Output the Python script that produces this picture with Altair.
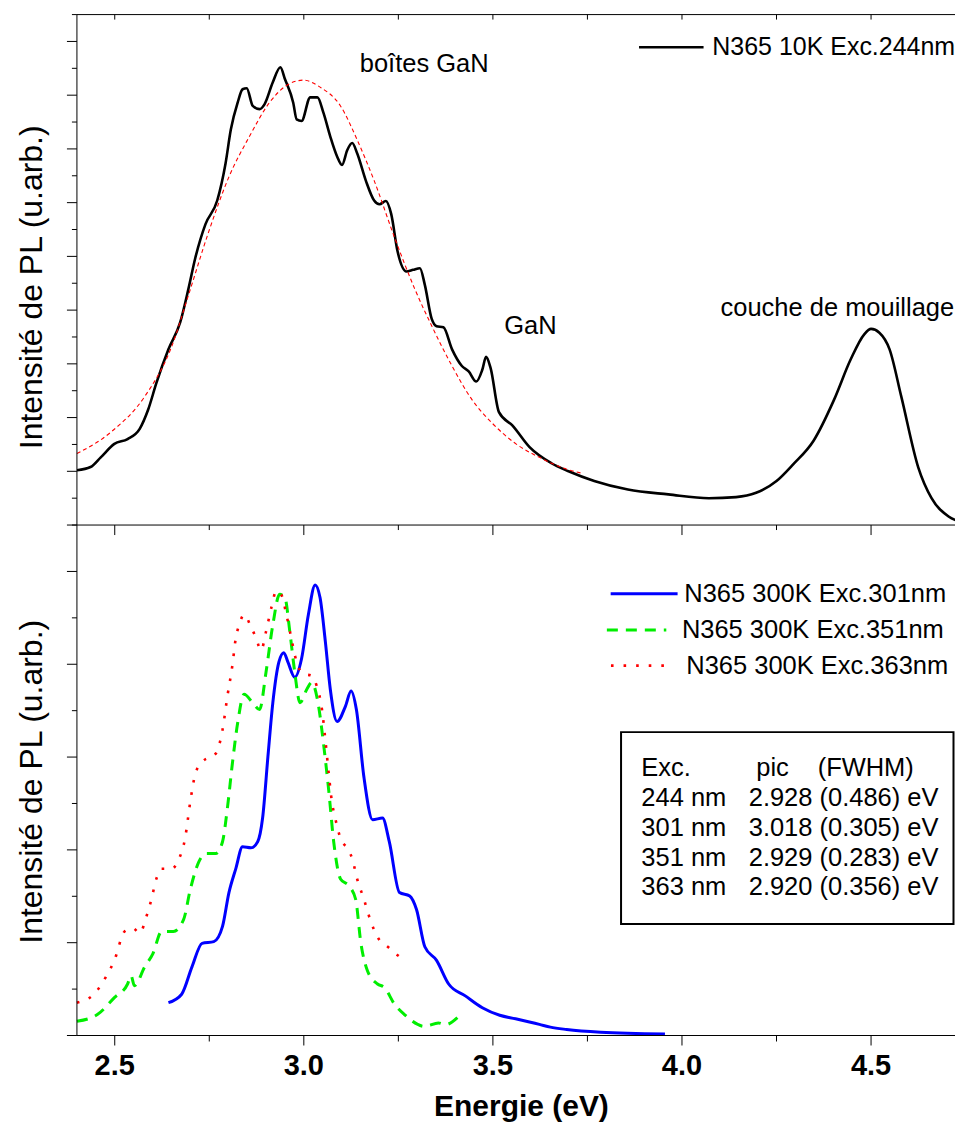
import altair as alt
import pandas as pd

# ---------------- data ----------------
# top panel : N365 10K Exc.244nm
e_10k = [2.400, 2.436, 2.463, 2.499, 2.534, 2.566, 2.588, 2.610, 2.642, 2.673, 2.695, 2.713,
         2.740, 2.771, 2.793, 2.807, 2.825, 2.838, 2.849, 2.865, 2.883, 2.896, 2.918, 2.938,
         2.950, 2.972, 2.981, 2.994, 3.017, 3.036, 3.052, 3.070, 3.088, 3.101, 3.115, 3.128,
         3.141, 3.164, 3.186, 3.200, 3.217, 3.231, 3.248, 3.271, 3.289, 3.307, 3.320, 3.338,
         3.351, 3.369, 3.392, 3.418, 3.436, 3.456, 3.472, 3.482, 3.494, 3.516, 3.552, 3.597,
         3.655, 3.700, 3.768, 3.857, 3.964, 4.071, 4.143, 4.196, 4.250, 4.294, 4.348, 4.402,
         4.446, 4.482, 4.500, 4.522, 4.549, 4.580, 4.625, 4.660, 4.705, 4.740]
i_10k = [1.02, 1.08, 1.26, 1.51, 1.60, 1.79, 2.14, 2.64, 3.27, 3.77, 4.40, 4.97,
         5.60, 6.04, 6.73, 7.36, 7.86, 8.11, 8.13, 7.80, 7.74, 7.83, 8.24, 8.52,
         8.30, 7.86, 7.55, 7.52, 7.96, 7.96, 7.67, 7.23, 6.86, 6.70, 6.98, 7.11,
         6.92, 6.41, 6.04, 5.97, 6.03, 5.79, 5.09, 4.72, 4.75, 4.78, 4.47, 3.84,
         3.70, 3.68, 3.27, 2.96, 2.86, 2.67, 2.89, 3.13, 2.92, 2.10, 1.85, 1.45,
         1.15, 1.00, 0.82, 0.66, 0.57, 0.50, 0.52, 0.60, 0.82, 1.13, 1.57, 2.33,
         3.08, 3.55, 3.65, 3.58, 3.27, 2.39, 1.07, 0.50, 0.16, 0.05]

# top panel : fitted curve (thin red dashed)
e_fit = [2.400, 2.490, 2.579, 2.651, 2.695, 2.749, 2.802, 2.856, 2.909, 2.954, 2.999, 3.043,
         3.097, 3.141, 3.186, 3.240, 3.293, 3.338, 3.392, 3.445, 3.499, 3.561, 3.623, 3.695, 3.732]
i_fit = [1.33, 1.73, 2.39, 3.33, 4.28, 5.47, 6.48, 7.23, 7.86, 8.18, 8.28, 8.15,
         7.80, 7.17, 6.41, 5.35, 4.40, 3.71, 2.96, 2.33, 1.89, 1.51, 1.26, 1.04, 0.97]

# bottom panel : N365 300K Exc.301nm
e_301 = [2.642, 2.677, 2.704, 2.731, 2.762, 2.785, 2.802, 2.820, 2.838, 2.860, 2.878, 2.891,
         2.905, 2.918, 2.934, 2.947, 2.958, 2.976, 2.994, 3.012, 3.030, 3.043, 3.057, 3.070,
         3.088, 3.110, 3.125, 3.139, 3.159, 3.182, 3.208, 3.226, 3.253, 3.280, 3.298, 3.320,
         3.351, 3.383, 3.427, 3.472, 3.518, 3.560, 3.623, 3.652, 3.695, 3.785, 3.955]
i_301 = [0.354, 0.445, 0.737, 0.993, 1.011, 1.175, 1.540, 1.796, 2.033, 2.022, 2.088, 2.343,
         3.001, 3.584, 4.023, 4.125, 4.023, 3.859, 4.059, 4.534, 4.855, 4.716, 4.242, 3.731,
         3.383, 3.547, 3.712, 3.512, 2.782, 2.325, 2.343, 2.088, 1.540, 1.503, 1.357, 0.956,
         0.810, 0.555, 0.427, 0.299, 0.218, 0.180, 0.120, 0.090, 0.065, 0.036, 0.017]

# bottom panel : N365 300K Exc.351nm
e_351 = [2.400, 2.454, 2.499, 2.534, 2.543, 2.552, 2.579, 2.601, 2.624, 2.655, 2.682, 2.700,
         2.722, 2.740, 2.767, 2.785, 2.798, 2.811, 2.825, 2.842, 2.865, 2.883, 2.900, 2.918,
         2.936, 2.950, 2.963, 2.976, 2.990, 3.008, 3.021, 3.039, 3.052, 3.066, 3.079, 3.097,
         3.119, 3.137, 3.151, 3.168, 3.195, 3.213, 3.240, 3.266, 3.320, 3.356, 3.374, 3.410]
i_351 = [0.153, 0.226, 0.408, 0.555, 0.646, 0.537, 0.737, 0.883, 1.121, 1.121, 1.248, 1.577,
         1.869, 1.960, 1.960, 2.088, 2.453, 2.928, 3.366, 3.676, 3.584, 3.512, 3.914, 4.424,
         4.753, 4.716, 4.351, 3.914, 3.584, 3.731, 3.804, 3.549, 3.147, 2.635, 2.088, 1.687,
         1.613, 1.468, 0.993, 0.701, 0.555, 0.518, 0.336, 0.226, 0.098, 0.135, 0.117, 0.207]

# bottom panel : N365 300K Exc.363nm
e_363 = [2.400, 2.445, 2.476, 2.499, 2.526, 2.548, 2.566, 2.584, 2.597, 2.610, 2.624, 2.651,
         2.668, 2.686, 2.700, 2.713, 2.731, 2.767, 2.785, 2.798, 2.811, 2.820, 2.829, 2.842,
         2.860, 2.874, 2.887, 2.900, 2.914, 2.927, 2.940, 2.954, 2.967, 2.981, 2.999, 3.021,
         3.034, 3.048, 3.057, 3.066, 3.074, 3.083, 3.097, 3.115, 3.128, 3.141, 3.159, 3.177,
         3.200, 3.222, 3.248, 3.266]
i_363 = [0.354, 0.445, 0.627, 0.810, 1.121, 1.157, 1.103, 1.285, 1.468, 1.687, 1.796, 1.796,
         1.887, 2.124, 2.526, 2.819, 2.946, 3.037, 3.293, 3.658, 3.986, 4.279, 4.424, 4.534,
         4.406, 4.279, 4.150, 4.351, 4.607, 4.789, 4.753, 4.534, 4.279, 4.023, 3.896, 3.877,
         3.767, 3.512, 3.184, 2.819, 2.526, 2.343, 2.124, 2.015, 1.905, 1.687, 1.468, 1.230,
         1.029, 0.956, 0.865, 0.810]

# axis ticks and tick labels
x_domain = [2.4, 4.722]
x_major = [2.5, 3.0, 3.5, 4.0, 4.5]
x_labels = ["2.5", "3.0", "3.5", "4.0", "4.5"]
x_minor = [2.75, 3.25, 3.75, 4.25]
x_quarter = [2.5, 2.75, 3.0, 3.25, 3.5, 3.75, 4.0, 4.25, 4.5]
top_major = [0, 1, 2, 3, 4, 5, 6, 7, 8, 9]
top_minor = [0.5, 1.5, 2.5, 3.5, 4.5, 5.5, 6.5, 7.5, 8.5, 9.5]
low_major = [0, 1, 2, 3, 4, 5]
low_minor = [0.5, 1.5, 2.5, 3.5, 4.5, 5.5]

# titles, annotations, legend and table texts
y_title = "Intensité de PL (u.arb.)"
x_title = "Energie (eV)"
top_notes = ["boîtes GaN", "GaN", "couche de mouillage"]
top_notes_x = [3.148, 3.530, 4.102]
top_notes_y = [8.58, 3.70, 4.04]
legend_top = "N365 10K Exc.244nm"
legend_low = ["N365 300K Exc.301nm", "N365 300K Exc.351nm", "N365 300K Exc.363nm"]
table_head = ["Exc.", "pic", "(FWHM)"]
table_exc = ["244 nm", "301 nm", "351 nm", "363 nm"]
table_val = ["2.928 (0.486) eV", "3.018 (0.305) eV", "2.929 (0.283) eV", "2.920 (0.356) eV"]

# ---------------- chart ----------------
FONT = "Liberation Sans"
W, H_TOP, H_LOW = 879, 511, 511
TOP_MAX, LOW_MAX = 9.5, 5.5
FS = 25.5

xs = alt.Scale(domain=x_domain, nice=False, zero=False)
ys_top = alt.Scale(domain=[0, TOP_MAX], nice=False, zero=False)
ys_low = alt.Scale(domain=[0, LOW_MAX], nice=False, zero=False)
one = alt.Data(values=[{}])


def X(field="x"):
    return alt.X(f"{field}:Q", scale=xs, axis=None)


def Y(scale, field="y"):
    return alt.Y(f"{field}:Q", scale=scale, axis=None)


def rule(df, **kw):
    return alt.Chart(df).mark_rule(color="black", strokeWidth=1, **kw)


def label(txt, xx, yy, **kw):
    opts = dict(align="left", baseline="middle", font=FONT, fontSize=FS, color="black")
    opts.update(kw)
    return alt.Chart(one).mark_text(text=txt, **opts).encode(x=alt.value(xx), y=alt.value(yy))


def frame_left(ys, ymax, majors, minors, title_y):
    """left axis: domain line, major/minor ticks and rotated title"""
    return [
        rule(pd.DataFrame({"y": [0], "y2": [ymax]})).encode(
            x=alt.value(0), y=Y(ys), y2="y2:Q"),
        rule(pd.DataFrame({"y": majors})).encode(y=Y(ys), x=alt.value(-10), x2=alt.value(0)),
        rule(pd.DataFrame({"y": minors})).encode(y=Y(ys), x=alt.value(-5), x2=alt.value(0)),
        label(y_title, -35.3, title_y, align="center", baseline="alphabetic", angle=270,
              fontSize=32),
        # keeps the left extent of the chart fixed
        alt.Chart(one).mark_rule(strokeOpacity=0, strokeWidth=1).encode(
            x=alt.value(-69), x2=alt.value(-66), y=alt.value(1)),
    ]


df_10k = pd.DataFrame({"x": e_10k, "y": i_10k})
df_fit = pd.DataFrame({"x": e_fit, "y": i_fit})
df_301 = pd.DataFrame({"x": e_301, "y": i_301})
df_351 = pd.DataFrame({"x": e_351, "y": i_351})
df_363 = pd.DataFrame({"x": e_363, "y": i_363})
df_notes = pd.DataFrame({"t": top_notes, "x": top_notes_x, "y": top_notes_y})

# ----- top panel -----
t_black = alt.Chart(df_10k).mark_line(color="black", strokeWidth=2.6, clip=True,
                                      interpolate="monotone").encode(x=X(), y=Y(ys_top))
t_fit = alt.Chart(df_fit).mark_line(color="red", strokeWidth=1.1, strokeDash=[4, 3],
                                    interpolate="monotone").encode(x=X(), y=Y(ys_top))
t_border = rule(pd.DataFrame({"x": [x_domain[0]], "x2": [x_domain[1]], "y": [TOP_MAX]})).encode(
    x=X(), x2="x2:Q", y=Y(ys_top))
t_xticks = rule(pd.DataFrame({"x": x_quarter})).encode(x=X(), y=alt.value(0), y2=alt.value(5))
t_notes = alt.Chart(df_notes).mark_text(align="left", baseline="middle", font=FONT,
                                         fontSize=FS, color="black").encode(
    x=X(), y=Y(ys_top), text="t:N")
t_leg_line = alt.Chart(one).mark_rule(color="black", strokeWidth=2.5).encode(
    x=alt.value(562.7), x2=alt.value(627.3), y=alt.value(32.6))
t_leg_text = label(legend_top, 636, 32.6, fontSize=25)

top = alt.layer(t_black, t_fit, t_border, t_xticks, t_notes, t_leg_line, t_leg_text,
                *frame_left(ys_top, TOP_MAX, top_major, top_minor, 273)
                ).properties(width=W, height=H_TOP)

# ----- bottom panel -----
b_blue = alt.Chart(df_301).mark_line(color="#0000ff", strokeWidth=3,
                                     interpolate="monotone").encode(x=X(), y=Y(ys_low))
b_green = alt.Chart(df_351).mark_line(color="#00ee00", strokeWidth=3, strokeDash=[11, 8],
                                      interpolate="monotone").encode(x=X(), y=Y(ys_low))
b_red = alt.Chart(df_363).mark_line(color="#ff0000", strokeWidth=2.6, strokeDash=[2.6, 10],
                                    interpolate="monotone").encode(x=X(), y=Y(ys_low))
b_border = rule(pd.DataFrame({"x": [x_domain[0]], "x2": [x_domain[1]], "y": [LOW_MAX]})).encode(
    x=X(), x2="x2:Q", y=Y(ys_low))
b_bottom = rule(pd.DataFrame({"x": [x_domain[0]], "x2": [x_domain[1]], "y": [0]})).encode(
    x=X(), x2="x2:Q", y=Y(ys_low))
b_top_major = rule(pd.DataFrame({"x": x_major})).encode(x=X(), y=alt.value(0), y2=alt.value(10))
b_top_minor = rule(pd.DataFrame({"x": x_minor})).encode(x=X(), y=alt.value(0), y2=alt.value(5))
b_bot_major = rule(pd.DataFrame({"x": x_major})).encode(
    x=X(), y=alt.value(H_LOW), y2=alt.value(H_LOW + 10))
b_bot_minor = rule(pd.DataFrame({"x": x_minor})).encode(
    x=X(), y=alt.value(H_LOW), y2=alt.value(H_LOW + 6))
b_xlabels = alt.Chart(pd.DataFrame({"x": x_major, "t": x_labels})).mark_text(
    align="center", baseline="alphabetic", font=FONT, fontSize=29, fontWeight="bold",
    color="black").encode(x=X(), y=alt.value(H_LOW + 39.8), text="t:N")
b_xtitle = label(x_title, 445, H_LOW + 80.5, align="center", baseline="alphabetic",
                 fontSize=30, fontWeight="bold")

leg_cfg = [
    (legend_low[0], "#0000ff", 3.0, None, 534.3, 601.3, 68.7, 608.0),
    (legend_low[1], "#00ee00", 3.0, [11, 8], 530.5, 590.0, 105.0, 605.6),
    (legend_low[2], "#ff0000", 2.6, [2.6, 10], 534.6, 592.0, 140.7, 610.0),
]
b_leg = []
for txt, col, sw, dash, xa, xb, yy, xt in leg_cfg:
    kw = dict(color=col, strokeWidth=sw)
    if dash is not None:
        kw["strokeDash"] = dash
    b_leg.append(alt.Chart(one).mark_rule(**kw).encode(
        x=alt.value(xa), x2=alt.value(xb), y=alt.value(yy)))
    b_leg.append(label(txt, xt, yy))

b_box = alt.Chart(one).mark_rect(fill="white", stroke="black", strokeWidth=2).encode(
    x=alt.value(544.7), x2=alt.value(877.5), y=alt.value(207.3), y2=alt.value(399.3))

b_table = []
for txt, xx in zip(table_head, [565, 680, 741.5]):
    b_table.append(label(txt, xx, 242.8))
for k, (a, b) in enumerate(zip(table_exc, table_val)):
    yy = [273.2, 303.6, 333.1, 362.8][k]
    b_table.append(label(a, 565, yy))
    b_table.append(label(b, 672.5, yy))

bottom = alt.layer(b_blue, b_green, b_red, b_border, b_bottom, b_top_major, b_top_minor,
                   b_bot_major, b_bot_minor, b_xlabels, b_xtitle, *b_leg, b_box, *b_table,
                   *frame_left(ys_low, LOW_MAX, low_major, low_minor, 257)
                   ).properties(width=W, height=H_LOW)

chart = alt.vconcat(top, bottom, spacing=0, bounds="flush").properties(
    padding={"left": 0, "top": 5, "right": 0, "bottom": 0}
).configure_view(strokeWidth=0)

chart.save("out.html", embed_options={"renderer": "svg", "actions": False})
